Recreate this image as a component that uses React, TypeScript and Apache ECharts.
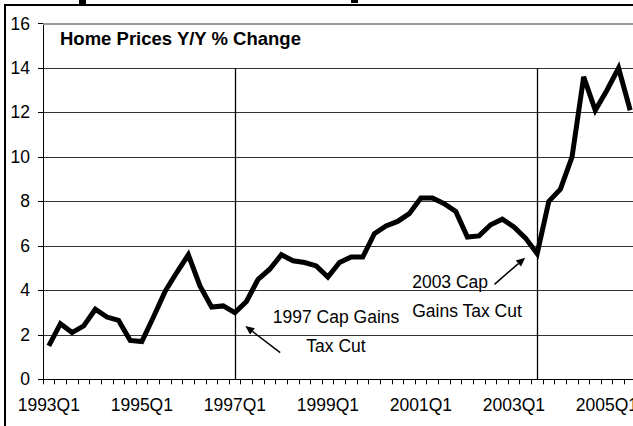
import React, { useEffect, useRef } from "react";
import * as echarts from "echarts";

const categories = [
  "1993Q1","1993Q2","1993Q3","1993Q4",
  "1994Q1","1994Q2","1994Q3","1994Q4",
  "1995Q1","1995Q2","1995Q3","1995Q4",
  "1996Q1","1996Q2","1996Q3","1996Q4",
  "1997Q1","1997Q2","1997Q3","1997Q4",
  "1998Q1","1998Q2","1998Q3","1998Q4",
  "1999Q1","1999Q2","1999Q3","1999Q4",
  "2000Q1","2000Q2","2000Q3","2000Q4",
  "2001Q1","2001Q2","2001Q3","2001Q4",
  "2002Q1","2002Q2","2002Q3","2002Q4",
  "2003Q1","2003Q2","2003Q3","2003Q4",
  "2004Q1","2004Q2","2004Q3","2004Q4",
  "2005Q1","2005Q2","2005Q3",
];

const homePriceChange = [
  1.5, 2.5, 2.1, 2.4,
  3.15, 2.8, 2.65, 1.75,
  1.7, 2.8, 3.95, 4.8,
  5.6, 4.2, 3.25, 3.3,
  3.0, 3.5, 4.5, 4.95,
  5.6, 5.33, 5.25, 5.1,
  4.6, 5.25, 5.5, 5.5,
  6.55, 6.9, 7.1, 7.45,
  8.15, 8.15, 7.9, 7.55,
  6.4, 6.45, 6.95, 7.2,
  6.85, 6.35, 5.65, 8.0,
  8.55, 10.0, 13.6, 12.1,
  13.0, 14.0, 12.1,
];

const yTicks = [0, 2, 4, 6, 8, 10, 12, 14, 16];
const cutDates = ["1997Q1", "2003Q3"];
const chartTitle = "Home Prices Y/Y % Change";
const note1997 = ["1997 Cap Gains", "Tax Cut"];
const note2003 = ["2003 Cap", "Gains Tax Cut"];

const FONT = "'Liberation Sans', Arial, sans-serif";

export default function App() {
  const ref = useRef<HTMLDivElement>(null);

  useEffect(() => {
    if (!ref.current) return;
    const chart = echarts.init(ref.current, null, { renderer: "svg" });
    const option: any = {
      animation: false,
      backgroundColor: "#ffffff",
      title: {
        text: chartTitle,
        left: 60,
        top: 29,
        padding: 0,
        textStyle: { fontFamily: FONT, fontSize: 18.5, fontWeight: "bold", color: "#000" },
      },
      grid: { left: 43, right: 64, top: 23.5, bottom: 46.7, containLabel: false },
      xAxis: {
        type: "category",
        data: categories,
        boundaryGap: true,
        axisLine: { lineStyle: { color: "#000", width: 1 } },
        axisTick: { show: true, interval: 0, length: 5, lineStyle: { color: "#000" } },
        axisLabel: {
          interval: 7,
          margin: 17,
          color: "#000",
          fontFamily: FONT,
          fontSize: 17.5,
        },
        splitLine: { show: false },
      },
      yAxis: {
        type: "value",
        min: yTicks[0],
        max: yTicks[yTicks.length - 1],
        interval: 2,
        axisLine: { show: true, lineStyle: { color: "#000", width: 1 } },
        axisTick: { show: true, length: 5, lineStyle: { color: "#000" } },
        axisLabel: { margin: 13, color: "#000", fontFamily: FONT, fontSize: 17.5 },
        splitLine: { show: true, lineStyle: { color: "#333", width: 1 } },
      },
      series: [
        {
          type: "line",
          data: homePriceChange,
          showSymbol: false,
          symbol: "none",
          lineStyle: { color: "#000", width: 5, join: "miter" },
          z: 5,
          markLine: {
            silent: true,
            symbol: ["none", "none"],
            label: { show: false },
            data: [
              [
                { coord: [cutDates[0], 14], lineStyle: { color: "#000", width: 1.3, type: "solid" } },
                { coord: [cutDates[0], 0] },
              ],
              [
                { coord: [cutDates[1], 14], lineStyle: { color: "#000", width: 1.3, type: "solid" } },
                { coord: [cutDates[1], 0] },
              ],
              { yAxis: 16, lineStyle: { color: "#999", width: 2, type: "solid" } },
            ],
          },
        },
      ],
    };
    chart.setOption(option);

    const px = (i: number, v: number) => {
      const a = chart.convertToPixel({ gridIndex: 0 }, [0, v]) as number[];
      const b = chart.convertToPixel({ gridIndex: 0 }, [1, v]) as number[];
      return [a[0] + (b[0] - a[0]) * i, a[1]];
    };

    const arrow = (from: number[], to: number[]) => {
      const dx = to[0] - from[0];
      const dy = to[1] - from[1];
      const len = Math.sqrt(dx * dx + dy * dy);
      const ux = dx / len;
      const uy = dy / len;
      const hl = 9;
      const hw = 4;
      const bx = to[0] - ux * hl;
      const by = to[1] - uy * hl;
      return [
        {
          type: "line",
          shape: { x1: from[0], y1: from[1], x2: bx, y2: by },
          style: { stroke: "#000", lineWidth: 1.5 },
          silent: true,
        },
        {
          type: "polygon",
          shape: {
            points: [
              [to[0], to[1]],
              [bx - uy * hw, by + ux * hw],
              [bx + uy * hw, by - ux * hw],
            ],
          },
          style: { fill: "#000" },
          silent: true,
        },
      ];
    };

    const textEl = (p: number[], text: string, align: string) => ({
      type: "text",
      x: p[0],
      y: p[1],
      style: {
        text,
        fill: "#000",
        font: `17.5px ${FONT}`,
        align,
        verticalAlign: "middle",
      },
      silent: true,
    });

    const t1 = px(24.7, 2.82);
    const t2 = px(24.7, 1.51);
    const t3 = px(31.25, 4.39);
    const t4 = px(31.25, 3.09);

    const graphics: any[] = [
      {
        type: "rect",
        shape: { x: 5, y: 5, width: 760, height: 500 },
        style: { fill: "none", stroke: "#000", lineWidth: 2 },
        silent: true,
        z: 100,
      },
      { type: "rect", shape: { x: 79, y: 0, width: 7, height: 4 }, style: { fill: "#000" }, silent: true },
      { type: "rect", shape: { x: 351, y: 0, width: 7, height: 3 }, style: { fill: "#000" }, silent: true },
      textEl(t1, note1997[0], "center"),
      textEl(t2, note1997[1], "center"),
      textEl(t3, note2003[0], "left"),
      textEl(t4, note2003[1], "left"),
      ...arrow(px(19.9, 1.2), px(16.9, 2.4)),
      ...arrow(px(38.33, 4.27), px(40.97, 5.47)),
    ];
    chart.setOption({ graphic: graphics });

    return () => chart.dispose();
  }, []);

  return (
    <div
      style={{
        position: "fixed",
        left: 0,
        top: 0,
        width: 633,
        height: 426,
        overflow: "hidden",
        background: "#fff",
      }}
    >
      <div ref={ref} style={{ width: 700, height: 426 }} />
    </div>
  );
}
